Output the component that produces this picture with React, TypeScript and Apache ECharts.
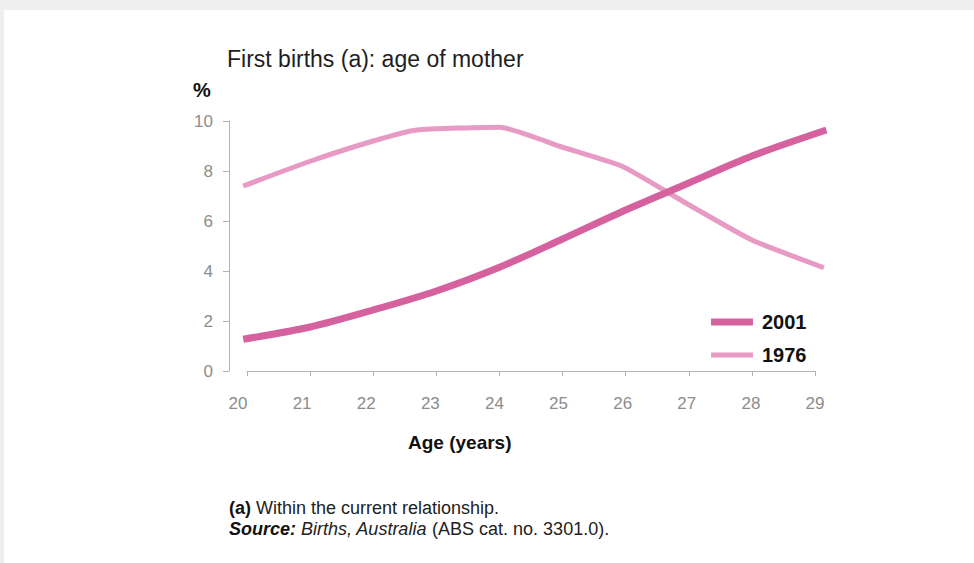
import React, { useEffect, useRef } from "react";
import * as echarts from "echarts";

const titleText = "First births (a): age of mother";
const yUnit = "%";
const xName = "Age (years)";
const seriesNames = ["2001", "1976"];
const xTickMin = 20;
const xTickMax = 29;
const yTickMax = 10;

const ages2001 = [19.94, 21, 22, 23, 24, 25, 26, 27, 28, 29.18];
const values2001 = [1.27, 1.76, 2.44, 3.2, 4.15, 5.28, 6.44, 7.52, 8.6, 9.64];
const ages1976 = [19.94, 21, 22, 22.69, 24.01, 25, 25.96, 27, 28, 29.14];
const values1976 = [7.4, 8.39, 9.2, 9.64, 9.75, 8.95, 8.17, 6.65, 5.24, 4.13];

const FONT = "'Liberation Sans', Arial, Helvetica, sans-serif";
const C2001 = "#d5629f";
const C1976 = "#e79ac4";
const AXIS = "#b3b3b3";
const TICKLBL = "#8c8c8c";
const FN = 18;

// plotting range for the data grid (wider than the tick range so line ends are not clipped)
const dataXMin = 19.9;
const dataXMax = 29.3;

export default function App() {
  const ref = useRef<HTMLDivElement>(null);
  useEffect(() => {
    if (!ref.current) return;
    const chart = echarts.init(ref.current, undefined, { renderer: "svg" });
    const pts = (xs: number[], ys: number[]) => xs.map((x, i) => [x, ys[i]]);
    const legendText = { fontFamily: FONT, fontSize: 20, fontWeight: "bold", color: "#111", lineHeight: 20, padding: [0, 0, 0, 4] };
    // grid 0 spans ages 20..29 from chart x 243 to 811
    const g0Left = 243;
    const g0Right = 811;
    const pxPerYear = (g0Right - g0Left) / (xTickMax - xTickMin);
    const g2Left = g0Left + (dataXMin - xTickMin) * pxPerYear;
    const g2RightEdge = g0Left + (dataXMax - xTickMin) * pxPerYear;
    chart.setOption({
      animation: false,
      textStyle: { fontFamily: FONT },
      title: [
        {
          text: titleText,
          left: 223,
          top: 37,
          padding: 0,
          textStyle: { fontFamily: FONT, fontSize: 23, fontWeight: "normal", color: "#1e1e1e" },
        },
        {
          text: yUnit,
          left: 189,
          top: 70,
          padding: 0,
          textStyle: { fontFamily: FONT, fontSize: 20, fontWeight: "bold", color: "#111" },
        },
        {
          text: xName,
          left: 404,
          top: 423,
          padding: 0,
          textStyle: { fontFamily: FONT, fontSize: 19, fontWeight: "bold", color: "#111" },
        },
        {
          text:
            "{b|(a)} {n|Within the current relationship.}\n{bi|Source:} {i|Births, Australia} {n|(ABS cat. no. 3301.0).}",
          left: 225,
          top: 487,
          padding: 0,
          textStyle: {
            fontFamily: FONT,
            fontSize: FN,
            fontWeight: "normal",
            lineHeight: 21,
            color: "#222",
            rich: {
              b: { fontFamily: FONT, fontSize: FN, fontWeight: "bold", color: "#111", lineHeight: 21 },
              n: { fontFamily: FONT, fontSize: FN, fontWeight: "normal", fontStyle: "normal", color: "#222", lineHeight: 21 },
              bi: { fontFamily: FONT, fontSize: FN, fontWeight: "bold", fontStyle: "italic", color: "#111", lineHeight: 21 },
              i: { fontFamily: FONT, fontSize: FN, fontWeight: "normal", fontStyle: "italic", color: "#222", lineHeight: 21 },
            },
          },
        },
      ],
      legend: [
        {
          data: [seriesNames[0]],
          icon: "rect",
          left: 707,
          top: 302,
          padding: 0,
          itemWidth: 42,
          itemHeight: 7,
          textStyle: legendText,
        },
        {
          data: [seriesNames[1]],
          icon: "rect",
          left: 707,
          top: 335,
          padding: 0,
          itemWidth: 42,
          itemHeight: 5,
          textStyle: legendText,
        },
      ],
      grid: [
        { left: g0Left, right: 970 - g0Right, top: 111, bottom: 192 },
        { left: 234, right: 970 - g0Right, top: 111, bottom: 192 },
        { left: g2Left, right: 970 - g2RightEdge, top: 111, bottom: 192 },
      ],
      xAxis: [
        {
          type: "value",
          gridIndex: 0,
          min: xTickMin,
          max: xTickMax,
          interval: 1,
          offset: 9,
          axisLine: { show: true, lineStyle: { color: AXIS, width: 1 } },
          axisTick: { show: true, length: 5, lineStyle: { color: AXIS } },
          axisLabel: { show: false },
          splitLine: { show: false },
        },
        {
          type: "value",
          gridIndex: 1,
          min: xTickMin,
          max: xTickMax,
          interval: 1,
          offset: 9,
          axisLine: { show: false },
          axisTick: { show: false },
          axisLabel: { show: true, fontFamily: FONT, fontSize: 17, color: TICKLBL, margin: 15 },
          splitLine: { show: false },
        },
        { type: "value", gridIndex: 2, min: dataXMin, max: dataXMax, show: false },
      ],
      yAxis: [
        {
          type: "value",
          gridIndex: 0,
          min: 0,
          max: yTickMax,
          interval: 2,
          offset: 18,
          axisLine: { show: true, lineStyle: { color: AXIS, width: 1 } },
          axisTick: { show: true, length: 6, lineStyle: { color: AXIS } },
          axisLabel: { fontFamily: FONT, fontSize: 17, color: TICKLBL, margin: 16 },
          splitLine: { show: false },
        },
        { type: "value", gridIndex: 1, min: 0, max: yTickMax, show: false },
        { type: "value", gridIndex: 2, min: 0, max: yTickMax, show: false },
      ],
      series: [
        {
          name: seriesNames[1],
          type: "line",
          xAxisIndex: 2,
          yAxisIndex: 2,
          data: pts(ages1976, values1976),
          symbol: "none",
          clip: false,
          smooth: 0.15,
          lineStyle: { color: C1976, width: 5 },
          itemStyle: { color: C1976 },
        },
        {
          name: seriesNames[0],
          type: "line",
          xAxisIndex: 2,
          yAxisIndex: 2,
          data: pts(ages2001, values2001),
          symbol: "none",
          clip: false,
          smooth: 0.3,
          lineStyle: { color: C2001, width: 7 },
          itemStyle: { color: C2001 },
        },
      ],
    });
    return () => chart.dispose();
  }, []);
  return (
    <div style={{ position: "fixed", left: 0, top: 0, width: 974, height: 563, background: "#eeeeee" }}>
      <div style={{ position: "absolute", left: 4, top: 10, width: 970, height: 553, background: "#ffffff" }}>
        <div ref={ref} style={{ width: 970, height: 553 }} />
      </div>
    </div>
  );
}
